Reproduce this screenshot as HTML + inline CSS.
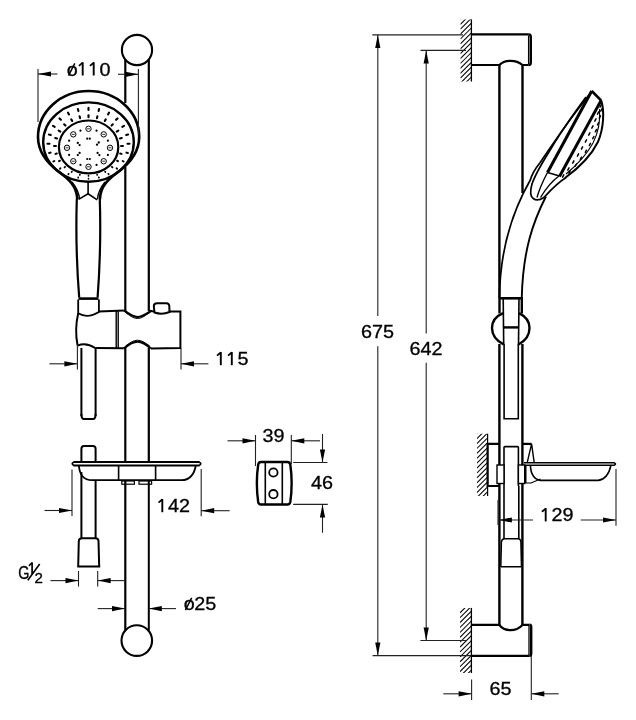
<!DOCTYPE html>
<html><head><meta charset="utf-8"><style>
html,body{margin:0;padding:0;background:#fff;width:636px;height:720px;overflow:hidden}
svg{display:block;filter:grayscale(1)}
text{font-family:"Liberation Sans",sans-serif;fill:#000}
</style></head><body>
<svg width="636" height="720" viewBox="0 0 636 720">
<rect width="636" height="720" fill="#fff"/>
<circle cx="137" cy="50" r="15.1" stroke="#000" stroke-width="2.1" fill="none"/>
<line x1="125.3" y1="59.5" x2="125.3" y2="103" stroke="#000" stroke-width="2.2"/>
<line x1="125.3" y1="167" x2="125.3" y2="311" stroke="#000" stroke-width="2.2"/>
<line x1="148.8" y1="59.5" x2="148.8" y2="311" stroke="#000" stroke-width="2.2"/>
<line x1="125.3" y1="348" x2="125.3" y2="462" stroke="#000" stroke-width="2.2"/>
<line x1="148.8" y1="348" x2="148.8" y2="462" stroke="#000" stroke-width="2.2"/>
<line x1="125.3" y1="480" x2="125.3" y2="630.5" stroke="#000" stroke-width="2.2"/>
<line x1="148.8" y1="480" x2="148.8" y2="630.5" stroke="#000" stroke-width="2.0"/>
<circle cx="136.8" cy="640.6" r="15.3" stroke="#000" stroke-width="2.1" fill="none"/>
<path d="M77.3,199.4 C77,186 68,178.5 60,172.6 C48,164 38,152 38,137 A50.6,46 0 0 1 139.2,137 C139.2,152 129.2,164 117.2,172.6 C109.2,178.5 100.2,186 99.9,199.4" stroke="#000" stroke-width="2.6" fill="#fff" />
<ellipse cx="88.5" cy="142.1" rx="45.3" ry="39.7" stroke="#000" stroke-width="2.4" fill="none"/>
<ellipse cx="88.6" cy="146.9" rx="29.7" ry="26.4" stroke="#000" stroke-width="2.2" fill="none"/>
<path d="M72,182 C76,187 79,192 79.5,199" stroke="#000" stroke-width="1.4" fill="none" />
<path d="M105,182 C101,187 98,192 97.5,199" stroke="#000" stroke-width="1.4" fill="none" />
<path d="M78.6,199.4 L88.1,193.8 L97.2,199.8" stroke="#000" stroke-width="1.6" fill="none" />
<line x1="88.1" y1="193.8" x2="88.1" y2="181.5" stroke="#000" stroke-width="1.6"/>
<line x1="127.50" y1="143.80" x2="129.50" y2="143.80" stroke="#000" stroke-width="2.10" stroke-linecap="round"/>
<line x1="126.38" y1="152.63" x2="127.89" y2="153.03" stroke="#000" stroke-width="1.99" stroke-linecap="round"/>
<line x1="122.64" y1="160.96" x2="123.64" y2="161.54" stroke="#000" stroke-width="1.89" stroke-linecap="round"/>
<line x1="116.50" y1="168.20" x2="117.07" y2="168.76" stroke="#000" stroke-width="1.80" stroke-linecap="round"/>
<line x1="108.37" y1="173.80" x2="108.63" y2="174.25" stroke="#000" stroke-width="1.74" stroke-linecap="round"/>
<line x1="98.81" y1="177.34" x2="98.90" y2="177.68" stroke="#000" stroke-width="1.69" stroke-linecap="round"/>
<line x1="88.50" y1="178.55" x2="88.50" y2="178.85" stroke="#000" stroke-width="1.68" stroke-linecap="round"/>
<line x1="78.19" y1="177.34" x2="78.10" y2="177.68" stroke="#000" stroke-width="1.69" stroke-linecap="round"/>
<line x1="68.63" y1="173.80" x2="68.37" y2="174.25" stroke="#000" stroke-width="1.74" stroke-linecap="round"/>
<line x1="60.50" y1="168.20" x2="59.93" y2="168.76" stroke="#000" stroke-width="1.80" stroke-linecap="round"/>
<line x1="54.36" y1="160.96" x2="53.36" y2="161.54" stroke="#000" stroke-width="1.89" stroke-linecap="round"/>
<line x1="50.62" y1="152.63" x2="49.11" y2="153.03" stroke="#000" stroke-width="1.99" stroke-linecap="round"/>
<line x1="49.50" y1="143.80" x2="47.50" y2="143.80" stroke="#000" stroke-width="2.10" stroke-linecap="round"/>
<line x1="50.83" y1="135.03" x2="48.90" y2="134.51" stroke="#000" stroke-width="2.10" stroke-linecap="round"/>
<line x1="54.73" y1="126.85" x2="52.99" y2="125.85" stroke="#000" stroke-width="2.10" stroke-linecap="round"/>
<line x1="60.92" y1="119.83" x2="59.51" y2="118.41" stroke="#000" stroke-width="2.10" stroke-linecap="round"/>
<line x1="69.00" y1="114.44" x2="68.00" y2="112.71" stroke="#000" stroke-width="2.10" stroke-linecap="round"/>
<line x1="78.41" y1="111.06" x2="77.89" y2="109.12" stroke="#000" stroke-width="2.10" stroke-linecap="round"/>
<line x1="88.50" y1="109.90" x2="88.50" y2="107.90" stroke="#000" stroke-width="2.10" stroke-linecap="round"/>
<line x1="98.59" y1="111.06" x2="99.11" y2="109.12" stroke="#000" stroke-width="2.10" stroke-linecap="round"/>
<line x1="108.00" y1="114.44" x2="109.00" y2="112.71" stroke="#000" stroke-width="2.10" stroke-linecap="round"/>
<line x1="116.08" y1="119.83" x2="117.49" y2="118.41" stroke="#000" stroke-width="2.10" stroke-linecap="round"/>
<line x1="122.27" y1="126.85" x2="124.01" y2="125.85" stroke="#000" stroke-width="2.10" stroke-linecap="round"/>
<line x1="126.17" y1="135.03" x2="128.10" y2="134.51" stroke="#000" stroke-width="2.10" stroke-linecap="round"/>
<line x1="121.05" y1="146.00" x2="122.95" y2="146.00" stroke="#000" stroke-width="2.10" stroke-linecap="round"/>
<line x1="120.14" y1="153.52" x2="121.57" y2="153.90" stroke="#000" stroke-width="1.99" stroke-linecap="round"/>
<line x1="117.04" y1="160.63" x2="117.98" y2="161.17" stroke="#000" stroke-width="1.89" stroke-linecap="round"/>
<line x1="111.92" y1="166.80" x2="112.46" y2="167.34" stroke="#000" stroke-width="1.80" stroke-linecap="round"/>
<line x1="105.12" y1="171.59" x2="105.38" y2="172.02" stroke="#000" stroke-width="1.74" stroke-linecap="round"/>
<line x1="97.13" y1="174.62" x2="97.21" y2="174.95" stroke="#000" stroke-width="1.69" stroke-linecap="round"/>
<line x1="88.50" y1="175.66" x2="88.50" y2="175.94" stroke="#000" stroke-width="1.68" stroke-linecap="round"/>
<line x1="79.87" y1="174.62" x2="79.79" y2="174.95" stroke="#000" stroke-width="1.69" stroke-linecap="round"/>
<line x1="71.88" y1="171.59" x2="71.62" y2="172.02" stroke="#000" stroke-width="1.74" stroke-linecap="round"/>
<line x1="65.08" y1="166.80" x2="64.54" y2="167.34" stroke="#000" stroke-width="1.80" stroke-linecap="round"/>
<line x1="59.96" y1="160.63" x2="59.02" y2="161.17" stroke="#000" stroke-width="1.89" stroke-linecap="round"/>
<line x1="56.86" y1="153.52" x2="55.43" y2="153.90" stroke="#000" stroke-width="1.99" stroke-linecap="round"/>
<line x1="55.95" y1="146.00" x2="54.05" y2="146.00" stroke="#000" stroke-width="2.10" stroke-linecap="round"/>
<line x1="57.06" y1="138.53" x2="55.22" y2="138.04" stroke="#000" stroke-width="2.10" stroke-linecap="round"/>
<line x1="60.31" y1="131.58" x2="58.67" y2="130.63" stroke="#000" stroke-width="2.10" stroke-linecap="round"/>
<line x1="65.48" y1="125.60" x2="64.14" y2="124.26" stroke="#000" stroke-width="2.10" stroke-linecap="round"/>
<line x1="72.22" y1="121.02" x2="71.27" y2="119.37" stroke="#000" stroke-width="2.10" stroke-linecap="round"/>
<line x1="80.08" y1="118.13" x2="79.58" y2="116.30" stroke="#000" stroke-width="2.10" stroke-linecap="round"/>
<line x1="88.50" y1="117.15" x2="88.50" y2="115.25" stroke="#000" stroke-width="2.10" stroke-linecap="round"/>
<line x1="96.92" y1="118.13" x2="97.42" y2="116.30" stroke="#000" stroke-width="2.10" stroke-linecap="round"/>
<line x1="104.78" y1="121.02" x2="105.72" y2="119.37" stroke="#000" stroke-width="2.10" stroke-linecap="round"/>
<line x1="111.52" y1="125.60" x2="112.86" y2="124.26" stroke="#000" stroke-width="2.10" stroke-linecap="round"/>
<line x1="116.69" y1="131.57" x2="118.33" y2="130.62" stroke="#000" stroke-width="2.10" stroke-linecap="round"/>
<line x1="119.94" y1="138.53" x2="121.78" y2="138.04" stroke="#000" stroke-width="2.10" stroke-linecap="round"/>
<circle cx="88.5" cy="128.8" r="2.7" stroke="#000" stroke-width="1.0" fill="none"/>
<line x1="87.0" y1="128.8" x2="90.0" y2="128.8" stroke="#000" stroke-width="0.8"/>
<circle cx="103.7" cy="134.36" r="2.7" stroke="#000" stroke-width="1.0" fill="none"/>
<line x1="102.2" y1="134.36" x2="105.2" y2="134.36" stroke="#000" stroke-width="0.8"/>
<circle cx="110.0" cy="147.8" r="2.7" stroke="#000" stroke-width="1.0" fill="none"/>
<line x1="108.5" y1="147.8" x2="111.5" y2="147.8" stroke="#000" stroke-width="0.8"/>
<circle cx="103.7" cy="161.24" r="2.7" stroke="#000" stroke-width="1.0" fill="none"/>
<line x1="102.2" y1="161.24" x2="105.2" y2="161.24" stroke="#000" stroke-width="0.8"/>
<circle cx="88.5" cy="166.8" r="2.7" stroke="#000" stroke-width="1.0" fill="none"/>
<line x1="87.0" y1="166.8" x2="90.0" y2="166.8" stroke="#000" stroke-width="0.8"/>
<circle cx="73.3" cy="161.24" r="2.7" stroke="#000" stroke-width="1.0" fill="none"/>
<line x1="71.8" y1="161.24" x2="74.8" y2="161.24" stroke="#000" stroke-width="0.8"/>
<circle cx="67.0" cy="147.8" r="2.7" stroke="#000" stroke-width="1.0" fill="none"/>
<line x1="65.5" y1="147.8" x2="68.5" y2="147.8" stroke="#000" stroke-width="0.8"/>
<circle cx="73.3" cy="134.36" r="2.7" stroke="#000" stroke-width="1.0" fill="none"/>
<line x1="71.8" y1="134.36" x2="74.8" y2="134.36" stroke="#000" stroke-width="0.8"/>
<circle cx="96.54" cy="130.71" r="1.1" fill="#000"/>
<circle cx="107.90" cy="140.72" r="1.1" fill="#000"/>
<circle cx="107.90" cy="154.88" r="1.1" fill="#000"/>
<circle cx="96.54" cy="164.89" r="1.1" fill="#000"/>
<circle cx="80.46" cy="164.89" r="1.1" fill="#000"/>
<circle cx="69.10" cy="154.88" r="1.1" fill="#000"/>
<circle cx="69.10" cy="140.72" r="1.1" fill="#000"/>
<circle cx="80.46" cy="130.71" r="1.1" fill="#000"/>
<circle cx="87.2" cy="138.7" r="1.1" fill="#000"/><circle cx="89.8" cy="138.7" r="1.1" fill="#000"/>
<circle cx="87.2" cy="159" r="1.1" fill="#000"/><circle cx="89.8" cy="159" r="1.1" fill="#000"/>
<circle cx="77.8" cy="142.9" r="1.15" fill="#000"/><circle cx="79.60000000000001" cy="145.1" r="1.15" fill="#000"/>
<circle cx="98.80000000000001" cy="142.5" r="1.15" fill="#000"/><circle cx="97.0" cy="144.7" r="1.15" fill="#000"/>
<circle cx="79.60000000000001" cy="152.9" r="1.15" fill="#000"/><circle cx="77.8" cy="155.1" r="1.15" fill="#000"/>
<circle cx="97.6" cy="152.9" r="1.15" fill="#000"/><circle cx="99.4" cy="155.1" r="1.15" fill="#000"/>
<path d="M76.8,199 C76,225 75.8,255 79.2,297.5" stroke="#000" stroke-width="2.2" fill="none" />
<path d="M99.8,199 C100.6,225 100.8,255 97.6,297.5" stroke="#000" stroke-width="2.2" fill="none" />
<line x1="78.5" y1="298.6" x2="98.5" y2="298.6" stroke="#000" stroke-width="2.6"/>
<path d="M78.2,299.5 L78.2,313.3 Q87.6,319 98.9,312 L98.9,299.5" stroke="#000" stroke-width="1.8" fill="none" />
<path d="M98.9,311.4 L123.8,310.5" stroke="#000" stroke-width="2" fill="none" />
<path d="M149.5,310.8 L154,311.4 M169,311.4 L180.4,311.4 L180.4,347.9 L150.8,348.5" stroke="#000" stroke-width="2" fill="none" />
<path d="M123.8,348.3 L95.2,347.9" stroke="#000" stroke-width="2" fill="none" />
<path d="M78.2,313.3 C75.5,325 75.5,335 77.6,345.6" stroke="#000" stroke-width="2" fill="none" />
<path d="M77.6,345.6 Q86,342 95.2,347.9" stroke="#000" stroke-width="1.8" fill="none" />
<line x1="116.2" y1="311" x2="116.2" y2="348" stroke="#000" stroke-width="1.4"/>
<line x1="118.2" y1="311" x2="118.2" y2="348" stroke="#000" stroke-width="1.4"/>
<path d="M123.8,310.3 C128,313 132,317 137.6,317 C143,317 147,313 151.5,310.8" stroke="#000" stroke-width="2.2" fill="none" />
<path d="M125.5,312.5 C129,315 133,318.5 137.6,318.5 C142,318.5 146,315 149.8,312.5" stroke="#000" stroke-width="1" fill="none" />
<path d="M123.8,348.5 C128,345 132,341.6 137.6,341.6 C143,341.6 147,345 150.8,348.5" stroke="#000" stroke-width="2.2" fill="none" />
<path d="M125.5,346 C129,343.5 133,340.2 137.6,340.2 C142,340.2 146,343.5 149.8,346" stroke="#000" stroke-width="1" fill="none" />
<path d="M154.5,312.5 L153.8,306 Q154,303.2 157,303.2 L166.5,303.2 Q169,303.2 169.3,306 L169.5,312 Q162,315 154.5,312.5 Z" stroke="#000" stroke-width="2" fill="#fff" />
<line x1="81.4" y1="348" x2="81.4" y2="416" stroke="#000" stroke-width="2"/>
<line x1="95.6" y1="348" x2="95.6" y2="416" stroke="#000" stroke-width="2"/>
<path d="M81.4,414 Q81.4,419 84,419 L93,419 Q95.6,419 95.6,414" stroke="#000" stroke-width="2" fill="none" />
<path d="M81.4,462 L81.4,449 Q81.4,446 84,446 L93,446 Q95.6,446 95.6,449 L95.6,462" stroke="#000" stroke-width="2" fill="none" />
<line x1="81.4" y1="472" x2="81.4" y2="538" stroke="#000" stroke-width="2"/>
<line x1="95.6" y1="480" x2="95.6" y2="538" stroke="#000" stroke-width="2"/>
<path d="M78.2,566.4 L78.8,541 Q79,538.2 82,538.2 L95.5,538.2 Q98.3,538.2 98.5,541 L99.2,566.4 Z" stroke="#000" stroke-width="2" fill="none" />
<path d="M74,462 L199,462 Q202.5,463.7 199,465.5 L74,465.5 Q70.5,463.7 74,462 Z" stroke="#000" stroke-width="1.8" fill="#fff" />
<path d="M78.9,465.7 Q80,480 92,480.2 L181.5,480.2 Q193,480 195.7,466" stroke="#000" stroke-width="1.8" fill="none" />
<line x1="118.6" y1="465.5" x2="118.6" y2="480" stroke="#000" stroke-width="1.6"/>
<line x1="155.6" y1="465.5" x2="155.6" y2="480" stroke="#000" stroke-width="1.6"/>
<rect x="121.8" y="481" width="12.6" height="3.2" fill="none" stroke="#000" stroke-width="1.2"/>
<rect x="139" y="481" width="12.6" height="3.2" fill="none" stroke="#000" stroke-width="1.2"/>
<line x1="38" y1="69" x2="38" y2="122" stroke="#222" stroke-width="1.1"/>
<line x1="138.4" y1="69" x2="138.4" y2="135" stroke="#222" stroke-width="1.1"/>
<line x1="38" y1="74" x2="57.5" y2="74" stroke="#222" stroke-width="1.1"/>
<polygon points="38.0,74.0 51.0,71.4 51.0,76.6" fill="#000"/>
<line x1="118" y1="74.3" x2="138.4" y2="74.3" stroke="#222" stroke-width="1.1"/>
<polygon points="138.4,74.3 125.4,71.7 125.4,76.9" fill="#000"/>
<text transform="translate(66.80,75.5) scale(1.1,1)" font-size="18" stroke="#000" stroke-width="0.3">o</text>
<line x1="68.50" y1="75.60" x2="74.80" y2="63.30" stroke="#000" stroke-width="1.5"/>
<line x1="82.70" y1="62.40" x2="82.70" y2="75.50" stroke="#000" stroke-width="1.9"/>
<line x1="82.40" y1="63.00" x2="79.50" y2="65.40" stroke="#000" stroke-width="1.8" stroke-linecap="round"/>
<line x1="93.70" y1="62.40" x2="93.70" y2="75.50" stroke="#000" stroke-width="1.9"/>
<line x1="93.40" y1="63.00" x2="90.50" y2="65.40" stroke="#000" stroke-width="1.8" stroke-linecap="round"/>
<text transform="translate(99.40,75.5) scale(1.1,1)" font-size="18" stroke="#000" stroke-width="0.3">0</text>
<line x1="77.4" y1="346" x2="77.4" y2="369.5" stroke="#222" stroke-width="1.1"/>
<line x1="181" y1="348" x2="181" y2="369.5" stroke="#222" stroke-width="1.1"/>
<line x1="49.4" y1="363.8" x2="77.4" y2="363.8" stroke="#222" stroke-width="1.1"/>
<polygon points="77.4,363.8 64.4,361.2 64.4,366.4" fill="#000"/>
<line x1="181" y1="363.8" x2="208.4" y2="363.8" stroke="#222" stroke-width="1.1"/>
<polygon points="181.0,363.8 194.0,361.2 194.0,366.4" fill="#000"/>
<line x1="220.80" y1="352.10" x2="220.80" y2="365.20" stroke="#000" stroke-width="1.9"/>
<line x1="220.50" y1="352.70" x2="217.60" y2="355.10" stroke="#000" stroke-width="1.8" stroke-linecap="round"/>
<line x1="231.80" y1="352.10" x2="231.80" y2="365.20" stroke="#000" stroke-width="1.9"/>
<line x1="231.50" y1="352.70" x2="228.60" y2="355.10" stroke="#000" stroke-width="1.8" stroke-linecap="round"/>
<text transform="translate(237.50,365.2) scale(1.1,1)" font-size="18" stroke="#000" stroke-width="0.3">5</text>
<line x1="72" y1="469.5" x2="72" y2="516" stroke="#222" stroke-width="1.1"/>
<line x1="201.2" y1="469" x2="201.2" y2="516.2" stroke="#222" stroke-width="1.1"/>
<line x1="44.5" y1="510.5" x2="72" y2="510.5" stroke="#222" stroke-width="1.1"/>
<polygon points="72.0,510.5 59.0,507.9 59.0,513.1" fill="#000"/>
<line x1="201.2" y1="510.7" x2="229.6" y2="510.7" stroke="#222" stroke-width="1.1"/>
<polygon points="201.2,510.7 214.2,508.1 214.2,513.3" fill="#000"/>
<line x1="162.30" y1="499.10" x2="162.30" y2="512.20" stroke="#000" stroke-width="1.9"/>
<line x1="162.00" y1="499.70" x2="159.10" y2="502.10" stroke="#000" stroke-width="1.8" stroke-linecap="round"/>
<text transform="translate(168.00,512.2) scale(1.1,1)" font-size="18" stroke="#000" stroke-width="0.3">4</text>
<text transform="translate(179.00,512.2) scale(1.1,1)" font-size="18" stroke="#000" stroke-width="0.3">2</text>
<line x1="78.5" y1="571" x2="78.5" y2="586.6" stroke="#222" stroke-width="1.1"/>
<line x1="97.7" y1="571" x2="97.7" y2="586.6" stroke="#222" stroke-width="1.1"/>
<line x1="50.5" y1="580.6" x2="78.5" y2="580.6" stroke="#222" stroke-width="1.1"/>
<polygon points="78.5,580.6 65.5,578.0 65.5,583.2" fill="#000"/>
<line x1="97.7" y1="580.6" x2="125" y2="580.6" stroke="#222" stroke-width="1.1"/>
<polygon points="97.7,580.6 110.7,578.0 110.7,583.2" fill="#000"/>
<line x1="97.7" y1="608.6" x2="125" y2="608.6" stroke="#222" stroke-width="1.1"/>
<polygon points="125.0,608.6 112.0,606.0 112.0,611.2" fill="#000"/>
<line x1="148.8" y1="608.6" x2="176" y2="608.6" stroke="#222" stroke-width="1.1"/>
<polygon points="148.8,608.6 161.8,606.0 161.8,611.2" fill="#000"/>
<text transform="translate(183.70,610) scale(1.1,1)" font-size="18" stroke="#000" stroke-width="0.3">o</text>
<line x1="185.40" y1="610.10" x2="191.70" y2="597.80" stroke="#000" stroke-width="1.5"/>
<text transform="translate(194.30,610) scale(1.1,1)" font-size="18" stroke="#000" stroke-width="0.3">2</text>
<text transform="translate(205.30,610) scale(1.1,1)" font-size="18" stroke="#000" stroke-width="0.3">5</text>
<path d="M261,462 L287.5,462 Q289.8,462 290.3,464.5 Q293,483 290.3,502 Q289.8,504.5 287.5,504.5 L261,504.5 Q258.7,504.5 258.2,502 Q255.5,483 258.2,464.5 Q258.7,462 261,462 Z" stroke="#000" stroke-width="2.4" fill="none" />
<line x1="265.3" y1="462" x2="265.3" y2="504.5" stroke="#000" stroke-width="1.6"/>
<line x1="282.3" y1="462" x2="282.3" y2="504.5" stroke="#000" stroke-width="1.6"/>
<circle cx="273.4" cy="472.5" r="4.2" stroke="#000" stroke-width="1.8" fill="none"/>
<circle cx="273.4" cy="494.2" r="4.2" stroke="#000" stroke-width="1.8" fill="none"/>
<line x1="255.5" y1="435" x2="255.5" y2="466" stroke="#222" stroke-width="1.1"/>
<line x1="291.3" y1="435" x2="291.3" y2="464" stroke="#222" stroke-width="1.1"/>
<line x1="227.5" y1="440.8" x2="255.5" y2="440.8" stroke="#222" stroke-width="1.1"/>
<polygon points="255.5,440.8 242.5,438.2 242.5,443.4" fill="#000"/>
<line x1="291.3" y1="440.8" x2="320" y2="440.8" stroke="#222" stroke-width="1.1"/>
<polygon points="291.3,440.8 304.3,438.2 304.3,443.4" fill="#000"/>
<text transform="translate(262.40,441.7) scale(1.1,1)" font-size="18" stroke="#000" stroke-width="0.3">3</text>
<text transform="translate(273.40,441.7) scale(1.1,1)" font-size="18" stroke="#000" stroke-width="0.3">9</text>
<line x1="293.2" y1="462.5" x2="327.5" y2="462.5" stroke="#222" stroke-width="1.1"/>
<line x1="293.2" y1="504.4" x2="327.8" y2="504.4" stroke="#222" stroke-width="1.1"/>
<line x1="322.5" y1="434" x2="322.5" y2="462.5" stroke="#222" stroke-width="1.1"/>
<polygon points="322.5,462.5 319.9,449.5 325.1,449.5" fill="#000"/>
<line x1="322.5" y1="504.4" x2="322.5" y2="532.8" stroke="#222" stroke-width="1.1"/>
<polygon points="322.5,504.4 319.9,517.4 325.1,517.4" fill="#000"/>
<text transform="translate(310.90,489.4) scale(1.1,1)" font-size="18" stroke="#000" stroke-width="0.3">4</text>
<text transform="translate(321.90,489.4) scale(1.1,1)" font-size="18" stroke="#000" stroke-width="0.3">6</text>
<clipPath id="c19"><rect x="460.4" y="19.4" width="11.0" height="62.1"/></clipPath><g clip-path="url(#c19)">
<line x1="460.4" y1="19.4" x2="471.4" y2="8.4" stroke="#000" stroke-width="1.05"/>
<line x1="460.4" y1="24.3" x2="471.4" y2="13.3" stroke="#000" stroke-width="1.05"/>
<line x1="460.4" y1="29.2" x2="471.4" y2="18.2" stroke="#000" stroke-width="1.05"/>
<line x1="460.4" y1="34.1" x2="471.4" y2="23.1" stroke="#000" stroke-width="1.05"/>
<line x1="460.4" y1="39.0" x2="471.4" y2="28.0" stroke="#000" stroke-width="1.05"/>
<line x1="460.4" y1="43.9" x2="471.4" y2="32.9" stroke="#000" stroke-width="1.05"/>
<line x1="460.4" y1="48.8" x2="471.4" y2="37.8" stroke="#000" stroke-width="1.05"/>
<line x1="460.4" y1="53.7" x2="471.4" y2="42.7" stroke="#000" stroke-width="1.05"/>
<line x1="460.4" y1="58.6" x2="471.4" y2="47.6" stroke="#000" stroke-width="1.05"/>
<line x1="460.4" y1="63.5" x2="471.4" y2="52.5" stroke="#000" stroke-width="1.05"/>
<line x1="460.4" y1="68.4" x2="471.4" y2="57.4" stroke="#000" stroke-width="1.05"/>
<line x1="460.4" y1="73.3" x2="471.4" y2="62.3" stroke="#000" stroke-width="1.05"/>
<line x1="460.4" y1="78.2" x2="471.4" y2="67.2" stroke="#000" stroke-width="1.05"/>
<line x1="460.4" y1="83.1" x2="471.4" y2="72.1" stroke="#000" stroke-width="1.05"/>
<line x1="460.4" y1="88.0" x2="471.4" y2="77.0" stroke="#000" stroke-width="1.05"/>
<line x1="460.4" y1="92.9" x2="471.4" y2="81.9" stroke="#000" stroke-width="1.05"/>
</g>
<line x1="471.4" y1="19.4" x2="471.4" y2="81.5" stroke="#000" stroke-width="1.3"/>
<path d="M471.4,34.4 L528.8,34.4 M471.4,65 L499.4,65 M522.5,65 L528.8,65" stroke="#000" stroke-width="2.2" fill="none" />
<path d="M528.8,34.4 Q530.8,34.6 530.8,37 L530.8,62.5 Q530.8,65 528.8,65" stroke="#000" stroke-width="2.4" fill="none" />
<line x1="528.6" y1="35.5" x2="528.6" y2="64" stroke="#000" stroke-width="1.3"/>
<path d="M499.4,65 C502,62 505,60.8 510.8,60.8 C516,60.8 519,62 522.5,65" stroke="#000" stroke-width="2.2" fill="none" />
<line x1="499.4" y1="65" x2="499.4" y2="298" stroke="#000" stroke-width="2.4"/>
<line x1="522.5" y1="65" x2="522.5" y2="193" stroke="#000" stroke-width="2.4"/>
<clipPath id="c607"><rect x="460" y="607.9" width="11.399999999999977" height="65.10000000000002"/></clipPath><g clip-path="url(#c607)">
<line x1="460" y1="607.9" x2="471.4" y2="596.5" stroke="#000" stroke-width="1.05"/>
<line x1="460" y1="612.8" x2="471.4" y2="601.4" stroke="#000" stroke-width="1.05"/>
<line x1="460" y1="617.7" x2="471.4" y2="606.3" stroke="#000" stroke-width="1.05"/>
<line x1="460" y1="622.6" x2="471.4" y2="611.2" stroke="#000" stroke-width="1.05"/>
<line x1="460" y1="627.5" x2="471.4" y2="616.1" stroke="#000" stroke-width="1.05"/>
<line x1="460" y1="632.4" x2="471.4" y2="621.0" stroke="#000" stroke-width="1.05"/>
<line x1="460" y1="637.3" x2="471.4" y2="625.9" stroke="#000" stroke-width="1.05"/>
<line x1="460" y1="642.2" x2="471.4" y2="630.8" stroke="#000" stroke-width="1.05"/>
<line x1="460" y1="647.1" x2="471.4" y2="635.7" stroke="#000" stroke-width="1.05"/>
<line x1="460" y1="652.0" x2="471.4" y2="640.6" stroke="#000" stroke-width="1.05"/>
<line x1="460" y1="656.9" x2="471.4" y2="645.5" stroke="#000" stroke-width="1.05"/>
<line x1="460" y1="661.8" x2="471.4" y2="650.4" stroke="#000" stroke-width="1.05"/>
<line x1="460" y1="666.7" x2="471.4" y2="655.3" stroke="#000" stroke-width="1.05"/>
<line x1="460" y1="671.6" x2="471.4" y2="660.2" stroke="#000" stroke-width="1.05"/>
<line x1="460" y1="676.5" x2="471.4" y2="665.1" stroke="#000" stroke-width="1.05"/>
<line x1="460" y1="681.4" x2="471.4" y2="670.0" stroke="#000" stroke-width="1.05"/>
<line x1="460" y1="686.3" x2="471.4" y2="674.9" stroke="#000" stroke-width="1.05"/>
</g>
<line x1="471.4" y1="607.9" x2="471.4" y2="673" stroke="#000" stroke-width="1.3"/>
<path d="M471.4,624.8 L499.4,624.8 M522.5,624.8 L529.6,624.8 M471.4,655.8 L529.6,655.8" stroke="#000" stroke-width="2.2" fill="none" />
<path d="M529.6,624.8 Q531.2,625 531.2,627 L531.2,653.5 Q531.2,655.8 529.6,655.8" stroke="#000" stroke-width="2.4" fill="none" />
<line x1="529" y1="626" x2="529" y2="655" stroke="#000" stroke-width="1.3"/>
<path d="M499.4,625 C502,628.5 505,630.2 510.8,630.2 C516,630.2 519,628.5 522.5,625" stroke="#000" stroke-width="2.2" fill="none" />
<line x1="499.4" y1="566" x2="499.4" y2="625" stroke="#000" stroke-width="2.4"/>
<line x1="522.4" y1="566" x2="522.4" y2="625" stroke="#000" stroke-width="2.4"/>
<line x1="499.4" y1="344" x2="499.4" y2="566" stroke="#000" stroke-width="2.4"/>
<line x1="522.4" y1="344" x2="522.4" y2="566" stroke="#000" stroke-width="2.4"/>
<line x1="504.1" y1="344" x2="504.1" y2="417" stroke="#000" stroke-width="1.6"/>
<line x1="518.3" y1="344" x2="518.3" y2="417" stroke="#000" stroke-width="1.6"/>
<path d="M504.1,417 L504.1,418.7 L518.3,418.7 L518.3,417" stroke="#000" stroke-width="1.6" fill="none" />
<path d="M504,486 L504,447.6 Q504,446.6 505,446.6 L517.4,446.6 Q518.4,446.6 518.4,447.6 L518.4,486" stroke="#000" stroke-width="1.6" fill="none" />
<line x1="504" y1="486" x2="504" y2="538.8" stroke="#000" stroke-width="1.6"/>
<line x1="518.8" y1="486" x2="518.8" y2="538.8" stroke="#000" stroke-width="1.6"/>
<path d="M501.4,542 Q501.8,538.8 504.5,538.8 L518,538.8 Q520.7,538.8 520.9,542 L521.5,566.8 M500.8,566.8 L521.5,566.8 M500.8,566.8 L501.4,542" stroke="#000" stroke-width="1.5" fill="none" />
<line x1="499.5" y1="298.3" x2="521.8" y2="298.3" stroke="#000" stroke-width="2.6"/>
<line x1="503.2" y1="298" x2="503.7" y2="344.5" stroke="#000" stroke-width="1.6"/>
<line x1="519" y1="298" x2="518.5" y2="344.5" stroke="#000" stroke-width="1.6"/>
<line x1="521.8" y1="297" x2="521.8" y2="313.5" stroke="#000" stroke-width="2.4"/>
<line x1="499.5" y1="297" x2="499.5" y2="313.5" stroke="#000" stroke-width="2.4"/>
<line x1="503.7" y1="327.4" x2="518.5" y2="327.4" stroke="#000" stroke-width="2.4"/>
<path d="M503.1,313.1 C494,317 492,322 492,328 C492,334 495,340 503.7,344.5" stroke="#000" stroke-width="2.4" fill="none" />
<path d="M519,313.1 C527,317 529.5,322 529.5,328 C529.5,334 527,340 518.5,344.5" stroke="#000" stroke-width="2.4" fill="none" />
<path d="M592.1,91.25 C580,106 558,136 540,162.8 C535,169 532,174 530.3,180 C512,212 500,250 499.5,297" stroke="#000" stroke-width="1.7" fill="none" />
<path d="M545.9,196.5 C533,222 523,250 521.8,297" stroke="#000" stroke-width="1.9" fill="none" />
<path d="M591.7,91 L547.5,172.5" stroke="#000" stroke-width="3" fill="none" />
<path d="M601.1,100.4 L559.5,176.5" stroke="#000" stroke-width="3" fill="none" />
<path d="M591.7,91 L601.1,100.4" stroke="#000" stroke-width="2.6" fill="none" />
<path d="M547.5,172.5 L559.5,176" stroke="#000" stroke-width="1.5" fill="none" />
<path d="M601.1,100.4 C604.5,110 604,128 597.9,142 C592,154 580,167 565,178" stroke="#000" stroke-width="2" fill="none" />
<path d="M599.5,109 C600.5,121 598,133 593,143 C587,154 577,165 566,174" stroke="#000" stroke-width="1.1" fill="none" />
<path d="M586,97 C575,112 562,130 552,147 C544,160 536,172 532,184 C530,191 530.5,197 533.5,198.7 C536,200.5 540,200 543.9,197.5 C549,192 556,184 566,177.5" stroke="#000" stroke-width="1.7" fill="none" />
<path d="M547.5,172.5 C543,181 539,190 537,197.5" stroke="#000" stroke-width="1.4" fill="none" />
<path d="M559,176 C552,181 545,190 540.5,197.5" stroke="#000" stroke-width="1.4" fill="none" />
<line x1="601.2" y1="104.9" x2="600.0" y2="107.1" stroke="#000" stroke-width="1.5" stroke-linecap="round"/>
<line x1="598.7" y1="111.9" x2="597.5" y2="114.1" stroke="#000" stroke-width="1.5" stroke-linecap="round"/>
<line x1="596.0" y1="118.9" x2="594.8" y2="121.1" stroke="#000" stroke-width="1.5" stroke-linecap="round"/>
<line x1="593.0" y1="125.9" x2="591.8" y2="128.1" stroke="#000" stroke-width="1.5" stroke-linecap="round"/>
<line x1="589.9" y1="132.9" x2="588.7" y2="135.1" stroke="#000" stroke-width="1.5" stroke-linecap="round"/>
<line x1="586.5" y1="139.9" x2="585.3" y2="142.1" stroke="#000" stroke-width="1.5" stroke-linecap="round"/>
<line x1="582.6" y1="146.9" x2="581.4" y2="149.1" stroke="#000" stroke-width="1.5" stroke-linecap="round"/>
<line x1="578.6" y1="153.9" x2="577.4" y2="156.1" stroke="#000" stroke-width="1.5" stroke-linecap="round"/>
<line x1="573.9" y1="160.9" x2="572.7" y2="163.1" stroke="#000" stroke-width="1.5" stroke-linecap="round"/>
<line x1="569.0" y1="167.9" x2="567.8" y2="170.1" stroke="#000" stroke-width="1.5" stroke-linecap="round"/>
<line x1="563.8" y1="174.9" x2="562.6" y2="177.1" stroke="#000" stroke-width="1.5" stroke-linecap="round"/>
<line x1="601.9" y1="108.9" x2="600.7" y2="111.1" stroke="#000" stroke-width="1.5" stroke-linecap="round"/>
<line x1="600.5" y1="115.8" x2="599.3" y2="118.0" stroke="#000" stroke-width="1.5" stroke-linecap="round"/>
<line x1="598.7" y1="122.7" x2="597.5" y2="124.9" stroke="#000" stroke-width="1.5" stroke-linecap="round"/>
<line x1="596.5" y1="129.6" x2="595.3" y2="131.8" stroke="#000" stroke-width="1.5" stroke-linecap="round"/>
<line x1="593.9" y1="136.5" x2="592.7" y2="138.7" stroke="#000" stroke-width="1.5" stroke-linecap="round"/>
<line x1="590.5" y1="143.3" x2="589.3" y2="145.5" stroke="#000" stroke-width="1.5" stroke-linecap="round"/>
<line x1="586.5" y1="150.2" x2="585.3" y2="152.4" stroke="#000" stroke-width="1.5" stroke-linecap="round"/>
<line x1="581.5" y1="157.1" x2="580.3" y2="159.3" stroke="#000" stroke-width="1.5" stroke-linecap="round"/>
<line x1="576.4" y1="164.0" x2="575.2" y2="166.2" stroke="#000" stroke-width="1.5" stroke-linecap="round"/>
<line x1="570.1" y1="170.9" x2="568.9" y2="173.1" stroke="#000" stroke-width="1.5" stroke-linecap="round"/>
<clipPath id="c433"><rect x="476.9" y="433.8" width="10.700000000000045" height="62.19999999999999"/></clipPath><g clip-path="url(#c433)">
<line x1="476.9" y1="433.8" x2="487.6" y2="423.1" stroke="#000" stroke-width="1.05"/>
<line x1="476.9" y1="438.7" x2="487.6" y2="428.0" stroke="#000" stroke-width="1.05"/>
<line x1="476.9" y1="443.6" x2="487.6" y2="432.9" stroke="#000" stroke-width="1.05"/>
<line x1="476.9" y1="448.5" x2="487.6" y2="437.8" stroke="#000" stroke-width="1.05"/>
<line x1="476.9" y1="453.4" x2="487.6" y2="442.7" stroke="#000" stroke-width="1.05"/>
<line x1="476.9" y1="458.3" x2="487.6" y2="447.6" stroke="#000" stroke-width="1.05"/>
<line x1="476.9" y1="463.2" x2="487.6" y2="452.5" stroke="#000" stroke-width="1.05"/>
<line x1="476.9" y1="468.1" x2="487.6" y2="457.4" stroke="#000" stroke-width="1.05"/>
<line x1="476.9" y1="473.0" x2="487.6" y2="462.3" stroke="#000" stroke-width="1.05"/>
<line x1="476.9" y1="477.9" x2="487.6" y2="467.2" stroke="#000" stroke-width="1.05"/>
<line x1="476.9" y1="482.8" x2="487.6" y2="472.1" stroke="#000" stroke-width="1.05"/>
<line x1="476.9" y1="487.7" x2="487.6" y2="477.0" stroke="#000" stroke-width="1.05"/>
<line x1="476.9" y1="492.6" x2="487.6" y2="481.9" stroke="#000" stroke-width="1.05"/>
<line x1="476.9" y1="497.5" x2="487.6" y2="486.8" stroke="#000" stroke-width="1.05"/>
<line x1="476.9" y1="502.4" x2="487.6" y2="491.7" stroke="#000" stroke-width="1.05"/>
<line x1="476.9" y1="507.3" x2="487.6" y2="496.6" stroke="#000" stroke-width="1.05"/>
</g>
<line x1="487.6" y1="433.8" x2="487.6" y2="496" stroke="#000" stroke-width="1.2"/>
<line x1="487.6" y1="443" x2="487.6" y2="487" stroke="#000" stroke-width="2.2"/>
<path d="M487.6,443.9 L498.9,443.9 M487.6,486 L498.9,486" stroke="#000" stroke-width="2.2" fill="none" />
<rect x="497" y="465" width="7" height="18.5" fill="#fff" stroke="#000" stroke-width="1.4"/>
<rect x="518.4" y="465" width="6.3" height="18.5" fill="#fff" stroke="#000" stroke-width="1.4"/>
<path d="M522.2,443.9 L531.6,443.9" stroke="#000" stroke-width="2.2" fill="none" />
<path d="M527.2,462.7 L531.6,443.9 L534.2,462.7" stroke="#000" stroke-width="1.4" fill="none" />
<path d="M524,462.7 L614,462.7 Q617,464 614,465.3 L524,465.3" stroke="#000" stroke-width="1.6" fill="none" />
<line x1="525.3" y1="465.3" x2="525.3" y2="483" stroke="#000" stroke-width="2.4"/>
<path d="M530.4,465.3 Q531,479 540.4,480.4 L598.3,480.4 Q608,479 610.9,465.3" stroke="#000" stroke-width="1.6" fill="none" />
<path d="M524.7,483 L531,483 Q538,480 540.4,479" stroke="#000" stroke-width="1.2" fill="none" />
<line x1="372.3" y1="34.9" x2="463" y2="34.9" stroke="#222" stroke-width="1.1"/>
<line x1="377.8" y1="34.9" x2="377.8" y2="316" stroke="#222" stroke-width="1.1"/>
<line x1="377.8" y1="346.3" x2="377.8" y2="655.4" stroke="#222" stroke-width="1.1"/>
<polygon points="377.8,34.9 375.2,47.9 380.4,47.9" fill="#000"/>
<polygon points="377.8,655.4 375.2,642.4 380.4,642.4" fill="#000"/>
<line x1="372.6" y1="655.6" x2="471" y2="655.6" stroke="#222" stroke-width="1.1"/>
<line x1="420.5" y1="50.4" x2="466" y2="50.4" stroke="#222" stroke-width="1.1"/>
<line x1="426.2" y1="50.4" x2="426.2" y2="333.4" stroke="#222" stroke-width="1.1"/>
<line x1="426.2" y1="362.8" x2="426.2" y2="640.4" stroke="#222" stroke-width="1.1"/>
<polygon points="426.2,50.4 423.6,63.4 428.8,63.4" fill="#000"/>
<polygon points="426.2,640.4 423.6,627.4 428.8,627.4" fill="#000"/>
<line x1="420.4" y1="640.5" x2="467" y2="640.5" stroke="#222" stroke-width="1.1"/>
<text transform="translate(361.00,337.7) scale(1.1,1)" font-size="18" stroke="#000" stroke-width="0.3">6</text>
<text transform="translate(372.00,337.7) scale(1.1,1)" font-size="18" stroke="#000" stroke-width="0.3">7</text>
<text transform="translate(383.00,337.7) scale(1.1,1)" font-size="18" stroke="#000" stroke-width="0.3">5</text>
<text transform="translate(409.50,355.3) scale(1.1,1)" font-size="18" stroke="#000" stroke-width="0.3">6</text>
<text transform="translate(420.50,355.3) scale(1.1,1)" font-size="18" stroke="#000" stroke-width="0.3">4</text>
<text transform="translate(431.50,355.3) scale(1.1,1)" font-size="18" stroke="#000" stroke-width="0.3">2</text>
<line x1="471.6" y1="679.6" x2="471.6" y2="700" stroke="#222" stroke-width="1.1"/>
<line x1="531.3" y1="656" x2="531.3" y2="700" stroke="#222" stroke-width="1.1"/>
<line x1="443.3" y1="693.8" x2="471.6" y2="693.8" stroke="#222" stroke-width="1.1"/>
<polygon points="471.6,693.8 458.6,691.2 458.6,696.4" fill="#000"/>
<line x1="531.3" y1="693.8" x2="558.7" y2="693.8" stroke="#222" stroke-width="1.1"/>
<polygon points="531.3,693.8 544.3,691.2 544.3,696.4" fill="#000"/>
<text transform="translate(489.50,695.3) scale(1.1,1)" font-size="18" stroke="#000" stroke-width="0.3">6</text>
<text transform="translate(500.50,695.3) scale(1.1,1)" font-size="18" stroke="#000" stroke-width="0.3">5</text>
<line x1="498" y1="500" x2="498" y2="525.3" stroke="#222" stroke-width="1.1"/>
<line x1="616" y1="469" x2="616" y2="525.7" stroke="#222" stroke-width="1.1"/>
<line x1="498.9" y1="520" x2="533" y2="520" stroke="#222" stroke-width="1.1"/>
<polygon points="498.9,520.0 511.9,517.4 511.9,522.6" fill="#000"/>
<line x1="580.7" y1="520" x2="616" y2="520" stroke="#222" stroke-width="1.1"/>
<polygon points="616.0,520.0 603.0,517.4 603.0,522.6" fill="#000"/>
<line x1="545.70" y1="508.30" x2="545.70" y2="521.40" stroke="#000" stroke-width="1.9"/>
<line x1="545.40" y1="508.90" x2="542.50" y2="511.30" stroke="#000" stroke-width="1.8" stroke-linecap="round"/>
<text transform="translate(551.40,521.4) scale(1.1,1)" font-size="18" stroke="#000" stroke-width="0.3">2</text>
<text transform="translate(562.40,521.4) scale(1.1,1)" font-size="18" stroke="#000" stroke-width="0.3">9</text>
<text transform="translate(18.3,579) scale(0.8,1)" font-size="18" stroke="#000" stroke-width="0.35">G</text>
<line x1="32.1" y1="562.5" x2="32.1" y2="574" stroke="#000" stroke-width="1.7"/><line x1="31.8" y1="563" x2="29.4" y2="565.4" stroke="#000" stroke-width="1.6" stroke-linecap="round"/>
<line x1="27.8" y1="580.3" x2="39.7" y2="564" stroke="#000" stroke-width="1.6"/>
<text transform="translate(34.6,582.8) scale(1.05,1)" font-size="14.4" stroke="#000" stroke-width="0.3">2</text>
</svg>
</body></html>
